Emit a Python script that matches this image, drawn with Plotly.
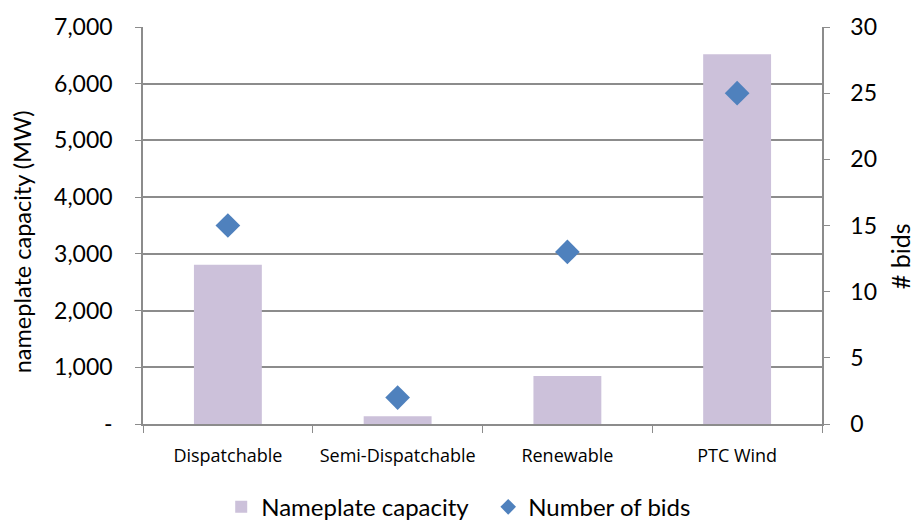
import plotly.graph_objects as go

categories = ["Dispatchable", "Semi-Dispatchable", "Renewable", "PTC Wind"]
capacity_mw = [2810, 135, 845, 6520]
num_bids = [15, 2, 13, 25]

left_ticks = [0, 1000, 2000, 3000, 4000, 5000, 6000, 7000]
left_ticktext = ["-", "1,000", "2,000", "3,000", "4,000", "5,000", "6,000", "7,000"]
right_ticks = [0, 5, 10, 15, 20, 25, 30]

FONT = "Lato, Carlito, Calibri, sans-serif"
GRID = "#8c8c8c"

fig = go.Figure()
fig.add_trace(go.Bar(
    x=categories, y=capacity_mw, name="Nameplate capacity",
    marker=dict(color="#CCC1DA", line=dict(width=0)), yaxis="y",
))
fig.add_trace(go.Scatter(
    x=categories, y=num_bids, name="Number of bids", mode="markers",
    marker=dict(symbol="diamond", size=19, color="#4F81BD"), yaxis="y2",
))

fig.update_layout(
    width=916, height=524,
    margin=dict(l=143, r=94, t=27, b=100, autoexpand=False),
    paper_bgcolor="white", plot_bgcolor="white",
    font=dict(family=FONT, color="black"),
    bargap=0.6,
    showlegend=True,
    legend=dict(orientation="h", x=0.2415, xanchor="left", xref="container",
                y=0.032, yanchor="middle", yref="container",
                font=dict(size=24, family=FONT), itemsizing="constant",
                traceorder="normal", itemwidth=30, entrywidth=222),
    xaxis=dict(
        type="category", showline=True, linecolor=GRID, linewidth=1.5,
        ticks="outside", tickson="boundaries", ticklen=7, tickcolor=GRID,
        tickfont=dict(size=18, family="Open Sans, sans-serif"), showgrid=False,
        ticklabelstandoff=15,
    ),
    yaxis=dict(
        range=[0, 7000], tickvals=left_ticks, ticktext=left_ticktext,
        showline=True, linecolor=GRID, linewidth=1.5,
        ticks="outside", ticklen=6, tickcolor=GRID,
        showgrid=True, gridcolor=GRID, gridwidth=1.5,
        tickfont=dict(size=23, family=FONT), ticklabelstandoff=18,
        zeroline=False,
    ),
    yaxis2=dict(
        range=[0, 30], tickvals=right_ticks, overlaying="y", side="right",
        showline=True, linecolor=GRID, linewidth=1.5,
        ticks="outside", ticklen=6, tickcolor=GRID,
        showgrid=False, zeroline=False,
        tickfont=dict(size=23, family=FONT), ticklabelstandoff=16,
    ),
    annotations=[
        dict(text="nameplate capacity (MW)", xref="paper", yref="paper",
             x=-0.178, y=0.458, xanchor="center", yanchor="middle",
             textangle=-90, showarrow=False, font=dict(size=23.5, family=FONT)),
        dict(text="# bids", xref="paper", yref="paper",
             x=1.115, y=0.423, xanchor="center", yanchor="middle",
             textangle=-90, showarrow=False, font=dict(size=25, family=FONT)),
    ],
)

fig.write_html("out.html")
